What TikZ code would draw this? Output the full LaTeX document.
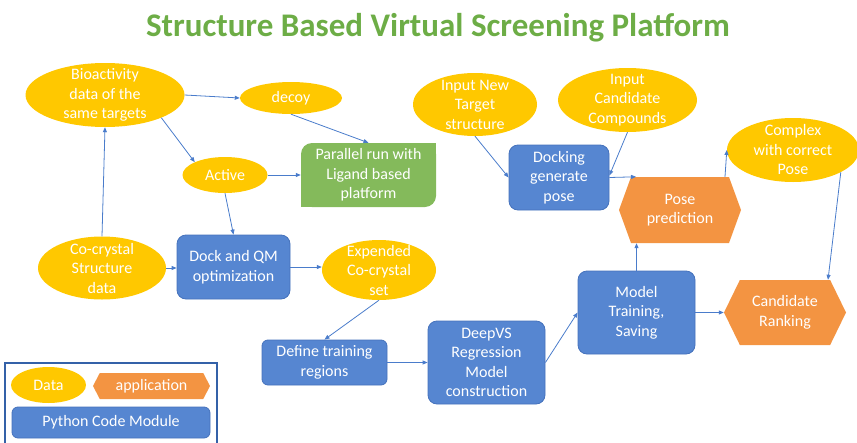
\documentclass[tikz,border=0pt]{standalone}
\usepackage{fontspec}
\setmainfont{Carlito}
\usetikzlibrary{shapes.geometric,shapes.symbols,arrows.meta,backgrounds}

\definecolor{datagold}{HTML}{FFC800}
\definecolor{codeblue}{HTML}{5686D1}
\definecolor{codeedge}{HTML}{4572BC}
\definecolor{apporange}{HTML}{F39442}
\definecolor{ligreen}{HTML}{84BA5B}
\definecolor{titlegreen}{HTML}{6DAD46}
\definecolor{linkblue}{HTML}{4A7CCB}
\definecolor{legendedge}{HTML}{3461A8}

\tikzset{
  every node/.style={font=\fontsize{16}{19.5}\selectfont, text=white, align=center},
  data/.style={ellipse, fill=datagold, inner sep=0pt},
  code/.style={rectangle, rounded corners=9pt, fill=codeblue, draw=codeedge, line width=0.8pt, inner sep=0pt},
  app/.style={signal, signal to=east and west, fill=apporange, inner sep=0pt},
  link/.style={draw=linkblue, line width=0.8pt, -{Triangle[length=5pt,width=4pt]}},
  txt/.style={text=white, align=center}
}

\begin{document}
\begin{tikzpicture}[x=1pt,y=-1pt]
\useasboundingbox (0,0) rectangle (857,442);

% title
\node[font=\fontsize{33}{38}\bfseries, text=titlegreen] (title) at (438,28) {Structure Based Virtual Screening Platform};

% data ellipses
\node[data, minimum width=159pt, minimum height=64pt,
  label={[txt]center:Bioactivity\\data of the\\same targets}] (bio) at (105,95) {};
\node[data, minimum width=102pt, minimum height=32pt,
  label={[txt]center:decoy}] (decoy) at (291,98) {};
\node[data, minimum width=85pt, minimum height=36pt,
  label={[txt]center:Active}] (active) at (225,175) {};
\node[data, minimum width=128pt, minimum height=63pt,
  label={[txt]center:Co-crystal\\Structure\\data}] (cocry) at (102,268) {};
\node[data, minimum width=114pt, minimum height=60pt,
  label={[txt]center:Expended\\Co-crystal\\set}] (exp) at (379,270) {};
\node[data, minimum width=124pt, minimum height=63pt,
  label={[txt]center:Input New\\Target\\structure}] (target) at (475,104.5) {};
\node[data, minimum width=139pt, minimum height=64pt,
  label={[txt]center:Input\\Candidate\\Compounds}] (cand) at (627.5,100) {};
\node[data, minimum width=132pt, minimum height=64pt,
  label={[txt]center:Complex\\with correct\\Pose}] (complex) at (793,150) {};

% ligand based platform box: rounded top-left and bottom-right corners only
\node[rectangle, rounded corners=11pt, fill=ligreen, minimum width=135pt, minimum height=64pt, inner sep=0pt] (par) at (368.5,175)
  {Parallel run with\\Ligand based\\platform};
\begin{scope}[on background layer]
  \fill[ligreen] (par.north east) rectangle ++(-14,14);
  \fill[ligreen] (par.south west) rectangle ++(14,-14);
\end{scope}

% python code modules
\node[code, minimum width=113pt, minimum height=64pt] (dock) at (233.5,267) {Dock and QM\\optimization};
\node[code, rounded corners=6pt, minimum width=125pt, minimum height=45pt] (define) at (324.5,362.5) {Define training\\regions};
\node[code, minimum width=117pt, minimum height=83pt] (deepvs) at (486.5,362.5) {DeepVS\\Regression\\Model\\construction};
\node[code, minimum width=117pt, minimum height=83pt] (train) at (636.5,312.5) {Model\\Training,\\Saving};
\node[code, minimum width=100pt, minimum height=65pt] (docking) at (559,177.5) {Docking\\generate\\pose};

% applications
\node[app, signal pointer angle=140, minimum width=122pt, minimum height=66pt] (pose) at (680,210) {Pose\\prediction};
\node[app, signal pointer angle=128, minimum width=122pt, minimum height=65pt] (rank) at (785,312.5) {Candidate\\Ranking};

% connectors
\draw[link] (bio.east) -- (decoy.west);
\draw[link] (bio.-22) -- (active.157);
\draw[link] (decoy.south) -- (par.north);
\draw[link] (active.east) -- (par.west);
\draw[link] (cocry.north) -- (bio.south);
\draw[link] (active.south) -- (dock.north);
\draw[link] (cocry.east) -- (cocry.east -| dock.west);
\draw[link] (dock.east) -- (dock.east -| exp.west);
\draw[link] (exp.south) -- (define.north);
\draw[link] (define.east) -- (deepvs.west);
\draw[link] (deepvs.east) -- (train.west);
\draw[link] (train.east) -- (rank.west);
\draw[link] (train.north) -- (train.north |- pose.south);
\draw[link] (target.south) -- (docking.west);
\draw[link] (cand.south) -- ([yshift=2pt]docking.east);
\draw[link] (docking.east) -- ([xshift=-44pt]pose.north);
\draw[link] ([xshift=45pt]pose.north) -- (complex.west);
\draw[link] (complex.-25) -- ([xshift=43pt]rank.north);

% legend
\draw[legendedge, line width=1.3pt] (5,363) rectangle (217,446);
\node[data, minimum width=75pt, minimum height=36pt,
  label={[txt]center:Data}] (ldata) at (48.5,385) {};
\node[app, signal pointer angle=125, minimum width=117pt, minimum height=26pt] (lapp) at (151.5,386) {application};
\node[code, rounded corners=6pt, minimum width=198pt, minimum height=31pt] (lpy) at (111,422.5) {Python Code Module};
\end{tikzpicture}
\end{document}
